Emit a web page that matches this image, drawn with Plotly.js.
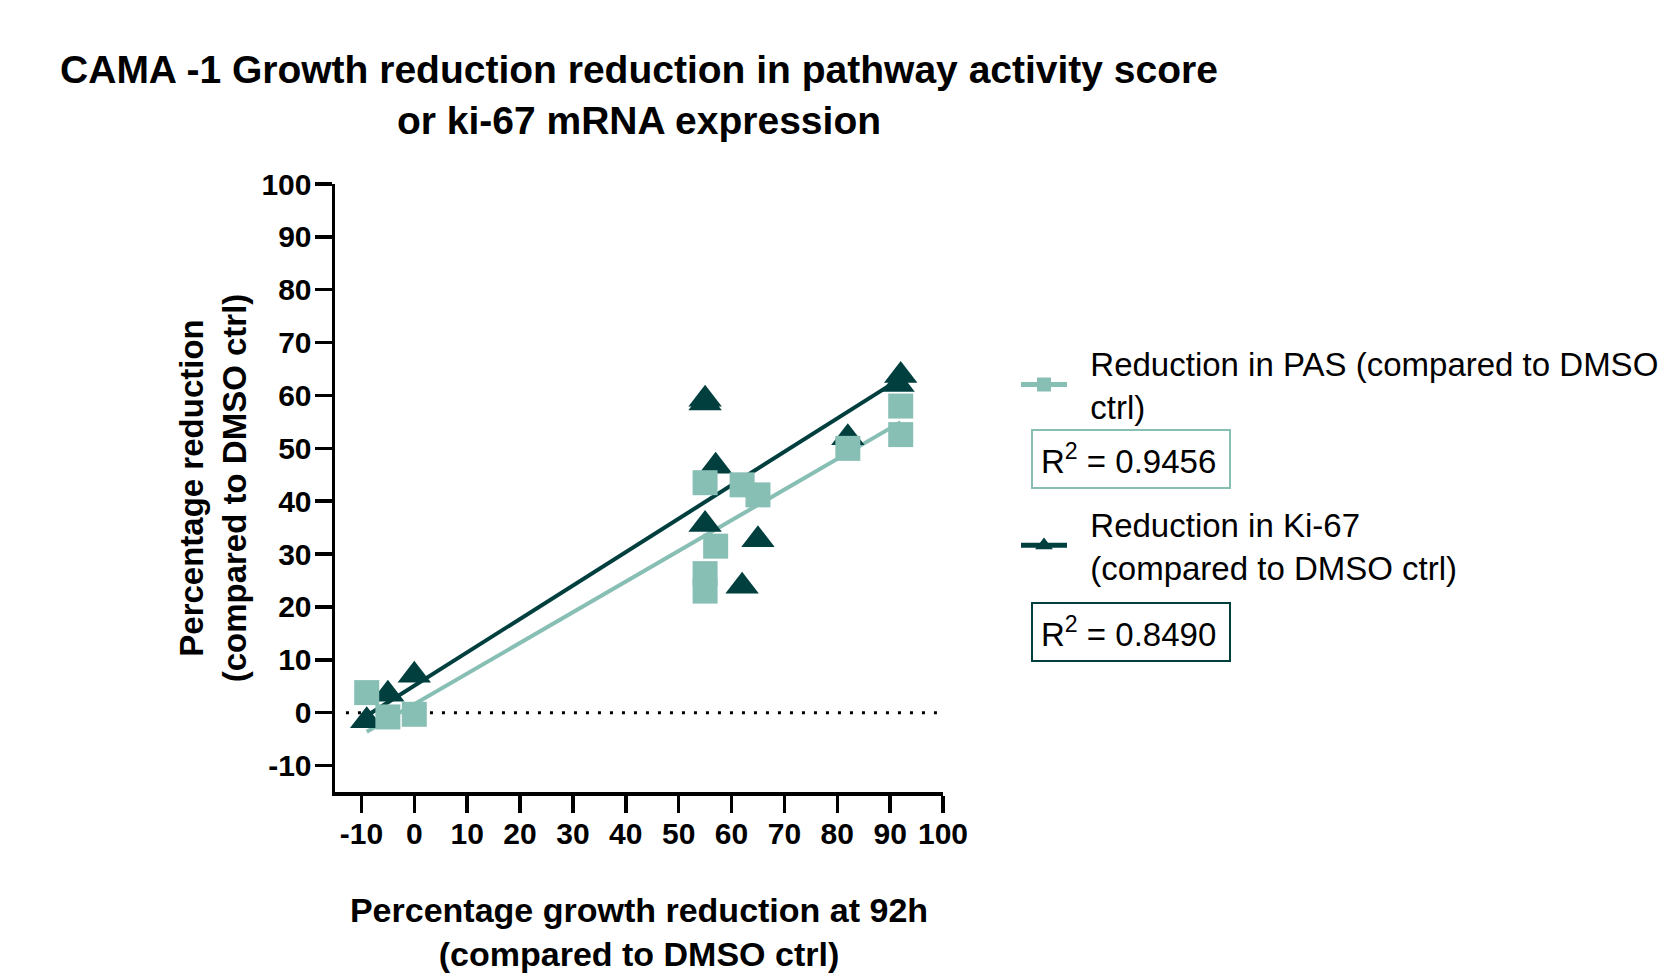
<!DOCTYPE html>
<html>
<head>
<meta charset="utf-8">
<script src="https://cdn.plot.ly/plotly-3.0.1.min.js"></script>
<style>
  html, body { margin: 0; padding: 0; background: #ffffff; }
  #chart { width: 1678px; height: 973px; }
</style>
</head>
<body>
<div id="chart"></div>
<script>
// ---- data ----
const pasX  = [-9, -5, 0, 55, 57, 55, 55, 62, 65, 82, 92, 92];
const pasY  = [3.8, -0.8, -0.3, 43.5, 31.5, 26.3, 23.0, 43.1, 41.2, 50.0, 58.0, 52.6];
const ki67X = [-9, -5, 0, 55, 55, 57, 55, 65, 62, 92, 91.5, 82];
const ki67Y = [-1.5, 3.5, 7.1, 59.3, 58.6, 46.6, 35.6, 32.7, 23.9, 63.8, 62.1, 52.0];
// linear fit lines as drawn in the picture: [intercept, slope]
const pasFitCoef  = [1.6, 0.58];
const ki67FitCoef = [5.1, 0.632];
const pasR2  = '0.9456';
const ki67R2 = '0.8490';
const xTickVals = [-10, 0, 10, 20, 30, 40, 50, 60, 70, 80, 90, 100];
const xTickText = ['-10', '0', '10', '20', '30', '40', '50', '60', '70', '80', '90', '100'];
const yTickVals = [-10, 0, 10, 20, 30, 40, 50, 60, 70, 80, 90, 100];
const yTickText = ['-10', '0', '10', '20', '30', '40', '50', '60', '70', '80', '90', '100'];
const pasName  = 'Reduction in PAS (compared to DMSO<br>ctrl)';
const ki67Name = 'Reduction in Ki-67<br>(compared to DMSO ctrl)';
const titleText = 'CAMA -1 Growth reduction reduction in pathway activity score<br>or ki-67 mRNA expression';
const xTitle = 'Percentage growth reduction at 92h<br>(compared to DMSO ctrl)';
const yTitle = 'Percentage reduction<br>(compared to DMSO ctrl)';

// ---- styles ----
const LIGHT = '#88bfb5';
const DARK = '#013f3f';
const FONT = 'Liberation Sans, Arial, Helvetica, sans-serif';

function fitLine(xs, coef) {
  const x0 = Math.min(...xs), x1 = Math.max(...xs);
  return { x: [x0, x1], y: [coef[0] + coef[1] * x0, coef[0] + coef[1] * x1] };
}
function pad(label) {
  return label.split('<br>').map(s => '\u00a0\u00a0' + s).join('<br>');
}
const pasFit = fitLine(pasX, pasFitCoef);
const kiFit = fitLine(ki67X, ki67FitCoef);

const traces = [
  {
    x: pasFit.x, y: pasFit.y, type: 'scatter', mode: 'lines+markers',
    name: pad(pasName), legendgroup: 'pas', showlegend: true,
    line: { color: LIGHT, width: 4 },
    marker: { symbol: 'square', size: 0.01, color: LIGHT, line: { color: LIGHT, width: 0.01 } },
    hoverinfo: 'skip'
  },
  {
    x: kiFit.x, y: kiFit.y, type: 'scatter', mode: 'lines+markers',
    name: pad(ki67Name), legendgroup: 'ki', showlegend: true,
    line: { color: DARK, width: 4 },
    marker: { symbol: 'triangle-up', size: 0.01, color: DARK, line: { color: DARK, width: 0.01 } },
    hoverinfo: 'skip'
  },
  {
    x: ki67X, y: ki67Y, type: 'scatter', mode: 'markers',
    name: 'Reduction in Ki-67', legendgroup: 'ki', showlegend: false,
    marker: { symbol: 'triangle-up', size: 29, color: DARK, line: { width: 0 } },
    cliponaxis: false
  },
  {
    x: pasX, y: pasY, type: 'scatter', mode: 'markers',
    name: 'Reduction in PAS', legendgroup: 'pas', showlegend: false,
    marker: { symbol: 'square', size: 25, color: LIGHT, line: { width: 0 } },
    cliponaxis: false
  }
];

const axisCommon = {
  showline: true, linecolor: '#000', linewidth: 3.5,
  ticks: 'outside', ticklen: 17, tickwidth: 3.5, tickcolor: '#000',
  showgrid: false, zeroline: false, automargin: false, fixedrange: true
};

const layout = {
  width: 1678, height: 973,
  paper_bgcolor: '#ffffff', plot_bgcolor: '#ffffff',
  margin: { l: 335, r: 735, t: 184, b: 181, pad: 0 },
  font: { family: FONT, color: '#000' },
  title: {
    text: titleText,
    font: { family: FONT, size: 39, weight: 700, color: '#000' },
    xref: 'paper', x: 0.5, xanchor: 'center',
    yref: 'container', y: 1 - 83 / 973, yanchor: 'top'
  },
  xaxis: Object.assign({}, axisCommon, {
    range: [-15, 100], tickmode: 'array', tickvals: xTickVals, ticktext: xTickText,
    tickfont: { family: FONT, size: 30, weight: 700, color: '#000' },
    ticklabelstandoff: -5,
    title: { text: xTitle, font: { family: FONT, size: 34, weight: 700, color: '#000' }, standoff: 64 }
  }),
  yaxis: Object.assign({}, axisCommon, {
    range: [-15, 100], tickmode: 'array', tickvals: yTickVals, ticktext: yTickText,
    tickfont: { family: FONT, size: 30, weight: 700, color: '#000' },
    ticklabelstandoff: -3,
    title: { text: yTitle, font: { family: FONT, size: 33, weight: 700, color: '#000' }, standoff: 6 }
  }),
  shapes: [{
    type: 'line', layer: 'below', xref: 'paper', yref: 'y',
    x0: 0.018, x1: 0.99, y0: 0, y1: 0,
    line: { color: '#000', width: 3, dash: '3px,9px' }
  }],
  legend: {
    xref: 'container', x: 1016 / 1678, xanchor: 'left',
    yref: 'container', y: 1 - 335 / 973, yanchor: 'top',
    font: { family: FONT, size: 33, color: '#000' },
    itemwidth: 46, itemsizing: 'constant',
    traceorder: 'grouped', tracegroupgap: 72,
    bgcolor: 'rgba(0,0,0,0)', borderwidth: 0
  },
  annotations: [
    {
      xref: 'paper', yref: 'paper', x: (1031 - 335) / 608, y: (792 - 429) / 608,
      xanchor: 'left', yanchor: 'top', align: 'left',
      text: 'R<sup>2</sup> = ' + pasR2, showarrow: false,
      font: { family: FONT, size: 33, color: '#000' },
      bordercolor: LIGHT, borderwidth: 2, borderpad: 8, width: 180, height: 40
    },
    {
      xref: 'paper', yref: 'paper', x: (1031 - 335) / 608, y: (792 - 602) / 608,
      xanchor: 'left', yanchor: 'top', align: 'left',
      text: 'R<sup>2</sup> = ' + ki67R2, showarrow: false,
      font: { family: FONT, size: 33, color: '#000' },
      bordercolor: DARK, borderwidth: 2, borderpad: 8, width: 180, height: 40
    }
  ]
};

Plotly.newPlot('chart', traces, layout, { displayModeBar: false, staticPlot: true });
</script>
</body>
</html>
